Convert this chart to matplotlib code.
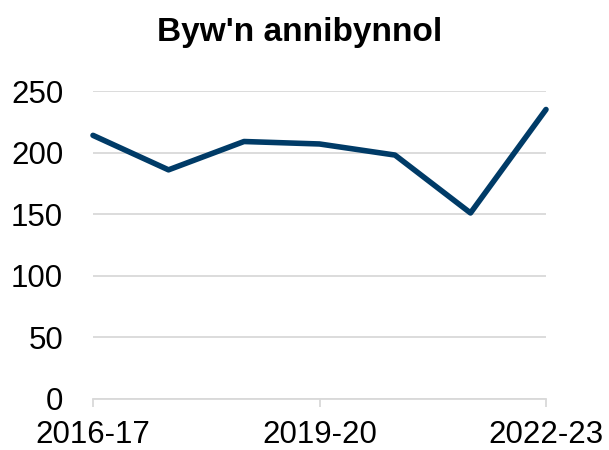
import matplotlib
matplotlib.use("Agg")
import matplotlib.pyplot as plt

years = ["2016-17", "2017-18", "2018-19", "2019-20", "2020-21", "2021-22", "2022-23"]
values = [214, 186, 209, 207, 198, 151, 235]
title = "Byw'n annibynnol"
yticks = [0, 50, 100, 150, 200, 250]
shown_xticks = ["2016-17", "2019-20", "2022-23"]

plt.rcParams['font.family'] = ['Liberation Sans', 'DejaVu Sans']

fig = plt.figure(figsize=(6.09, 4.5), dpi=100)
ax = fig.add_axes([93/609, 1-399/450, (546-93)/609, (399-91)/450])

x = list(range(len(years)))
ax.plot(x, values, color="#003B67", linewidth=4.0, solid_joinstyle="round", solid_capstyle="round", zorder=3, clip_on=False)

ax.set_ylim(0, 250)
ax.set_xlim(0, len(years) - 1)
ax.set_yticks(yticks)
ax.set_yticklabels([str(v) for v in yticks], fontsize=22.5)
ax.yaxis.grid(True, color="#D9D9D9", linewidth=1.3)
ax.set_axisbelow(True)

idx = [years.index(t) for t in shown_xticks]
ax.set_xticks(idx)
ax.set_xticklabels(shown_xticks, fontsize=22.5)
ax.tick_params(axis="x", direction="out", length=6, width=1.3, color="#D9D9D9", pad=9)
ax.tick_params(axis="y", length=0, pad=21.5)

for s in ["top", "right", "left"]:
    ax.spines[s].set_visible(False)
ax.spines["bottom"].set_color("#D9D9D9")
ax.spines["bottom"].set_linewidth(1.3)
ax.spines["bottom"].set_zorder(2)

fig.text(300/609, 1-33/450, title, fontsize=24, fontweight="bold", ha="center", va="center")

fig.savefig("out.png", dpi=100)
